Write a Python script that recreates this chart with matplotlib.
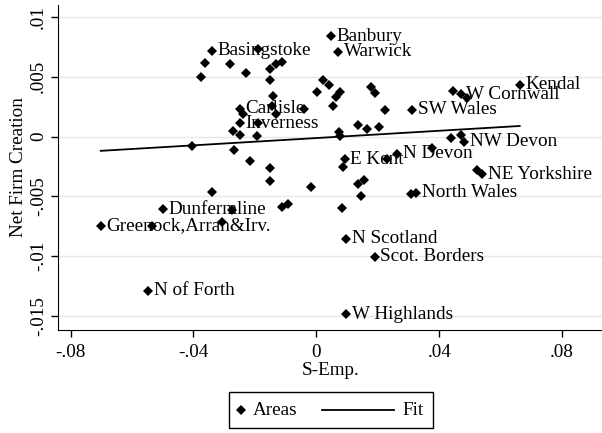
import numpy as np
import matplotlib
matplotlib.use("Agg")
import matplotlib.pyplot as plt
from matplotlib.lines import Line2D
from matplotlib.patches import Rectangle
from matplotlib.ticker import FuncFormatter

plt.rcParams["font.family"] = ["Liberation Serif", "DejaVu Serif"]

# S-Emp. (x), Net Firm Creation (y), label ("" = unlabelled area)
s_emp = [-0.0341, -0.0191, -0.0363, -0.0280, -0.0230, -0.0374, -0.0150, -0.0130,
         -0.0111, -0.0150, -0.0142, -0.0144, -0.0130, -0.0249, -0.0239, -0.0250,
         -0.0270, -0.0247, -0.0193, -0.0190, -0.0041, 0.0002, 0.0023, 0.0040,
         0.0047, 0.0072, 0.0078, 0.0065, 0.0054, 0.0177, 0.0190, 0.0224,
         0.0312, 0.0446, 0.0470, 0.0491, 0.0662, 0.0075, 0.0076, 0.0135,
         0.0165, 0.0205, 0.0437, 0.0470, 0.0482, 0.0377, 0.0263, 0.0230,
         0.0093, 0.0087, 0.0154, 0.0137, 0.0524, 0.0540, 0.0144, 0.0084,
         0.0307, 0.0326, 0.0098, 0.0190, 0.0098, -0.0404, -0.0268, -0.0215,
         -0.0150, -0.0150, -0.0339, -0.0017, -0.0500, -0.0275, -0.0112, -0.0092,
         -0.0702, -0.0536, -0.0306, -0.0547]
nfc = [0.00718, 0.00731, 0.00614, 0.00605, 0.00535, 0.00497, 0.00566, 0.00603,
       0.00625, 0.00473, 0.00340, 0.00260, 0.00190, 0.00235, 0.00188, 0.00112,
       0.00050, 0.00014, 0.00003, 0.00112, 0.00235, 0.00376, 0.00474, 0.00428,
       0.00840, 0.00711, 0.00376, 0.00335, 0.00260, 0.00415, 0.00365, 0.00223,
       0.00223, 0.00385, 0.00356, 0.00323, 0.00432, 0.00035, 0.00003, 0.00100,
       0.00062, 0.00084, -0.00013, 0.00017, -0.00042, -0.00092, -0.00145, -0.00185,
       -0.00189, -0.00251, -0.00362, -0.00397, -0.00276, -0.00316, -0.00496, -0.00594,
       -0.00479, -0.00468, -0.00855, -0.01003, -0.01485, -0.00081, -0.00114, -0.00205,
       -0.00264, -0.00372, -0.00465, -0.00420, -0.00607, -0.00613, -0.00585, -0.00563,
       -0.00744, -0.00747, -0.00711, -0.01288]
names = ["Basingstoke", "", "", "", "", "", "", "",
         "", "", "", "", "", "Carlisle", "", "Inverness",
         "", "", "", "", "", "", "", "",
         "Banbury", "Warwick", "", "", "", "", "", "",
         "SW Wales", "", "W Cornwall", "", "Kendal", "", "", "",
         "", "", "", "", "NW Devon", "", "N Devon", "",
         "E Kent", "", "", "", "", "NE Yorkshire", "", "",
         "", "North Wales", "N Scotland", "Scot. Borders", "W Highlands", "", "", "",
         "", "", "", "", "Dunfermline", "", "", "",
         "Greenock,Arran&Irv.", "", "", "N of Forth"]

xticks = [-0.08, -0.04, 0, 0.04, 0.08]
yticks = [-0.015, -0.01, -0.005, 0, 0.005, 0.01]

FS = 13.8


def stata_num(v, pos=None):
    # Stata drops the leading zero: .04, -.005
    if abs(v) < 1e-12:
        return "0"
    return ("%g" % v).replace("0.", ".")


fig = plt.figure(figsize=(6.02, 4.33), dpi=100)
ax = fig.add_axes([0.0969, 0.2379, 0.9031, 0.7505])

x = np.array(s_emp)
y = np.array(nfc)
slope, icpt = np.polyfit(x, y, 1)
xf = np.array([x.min(), x.max()])

ax.plot(xf, icpt + slope * xf, color="black", lw=1.3, zorder=3)
ax.plot(x, y, "D", color="black", ms=5.2, mew=0, zorder=4)
for xi, yi, nm in zip(x, y, names):
    if nm:
        ax.annotate(nm, (xi, yi), xytext=(4, 0), textcoords="offset points",
                    ha="left", va="center", fontsize=FS, zorder=2)

ax.set_xlim(-0.084, 0.093)
ax.set_ylim(-0.01616, 0.011)
ax.set_xticks(xticks)
ax.set_yticks(yticks)
ax.xaxis.set_major_formatter(FuncFormatter(stata_num))
ax.yaxis.set_major_formatter(FuncFormatter(stata_num))
ax.tick_params(axis="both", direction="out", length=5, width=1, labelsize=FS)
ax.tick_params(axis="x", pad=5)
ax.tick_params(axis="y", pad=3)
for lab in ax.get_yticklabels():
    lab.set_rotation(90)
    lab.set_va("center")
ax.grid(axis="y", color="#e6e6e6", lw=1)
ax.set_axisbelow(True)
for side in ("top", "right"):
    ax.spines[side].set_visible(False)
ax.set_xlabel("S-Emp.", fontsize=FS, labelpad=1)
ax.set_ylabel("Net Firm Creation", fontsize=FS, labelpad=2)

# legend drawn by hand, Stata style
fig.patches.append(Rectangle((0.3804, 0.0115), 0.3389, 0.0831, transform=fig.transFigure,
                             fill=False, edgecolor="black", lw=1))
fig.add_artist(Line2D([0.4003], [0.053], marker="D", color="black", ms=5.2, mew=0,
                      transform=fig.transFigure))
fig.text(0.4203, 0.053, "Areas", fontsize=FS, va="center", ha="left")
fig.add_artist(Line2D([0.5349, 0.6545], [0.053, 0.053], color="black", lw=1.3,
                      transform=fig.transFigure))
fig.text(0.6694, 0.053, "Fit", fontsize=FS, va="center", ha="left")

fig.savefig("out.png", dpi=100)
